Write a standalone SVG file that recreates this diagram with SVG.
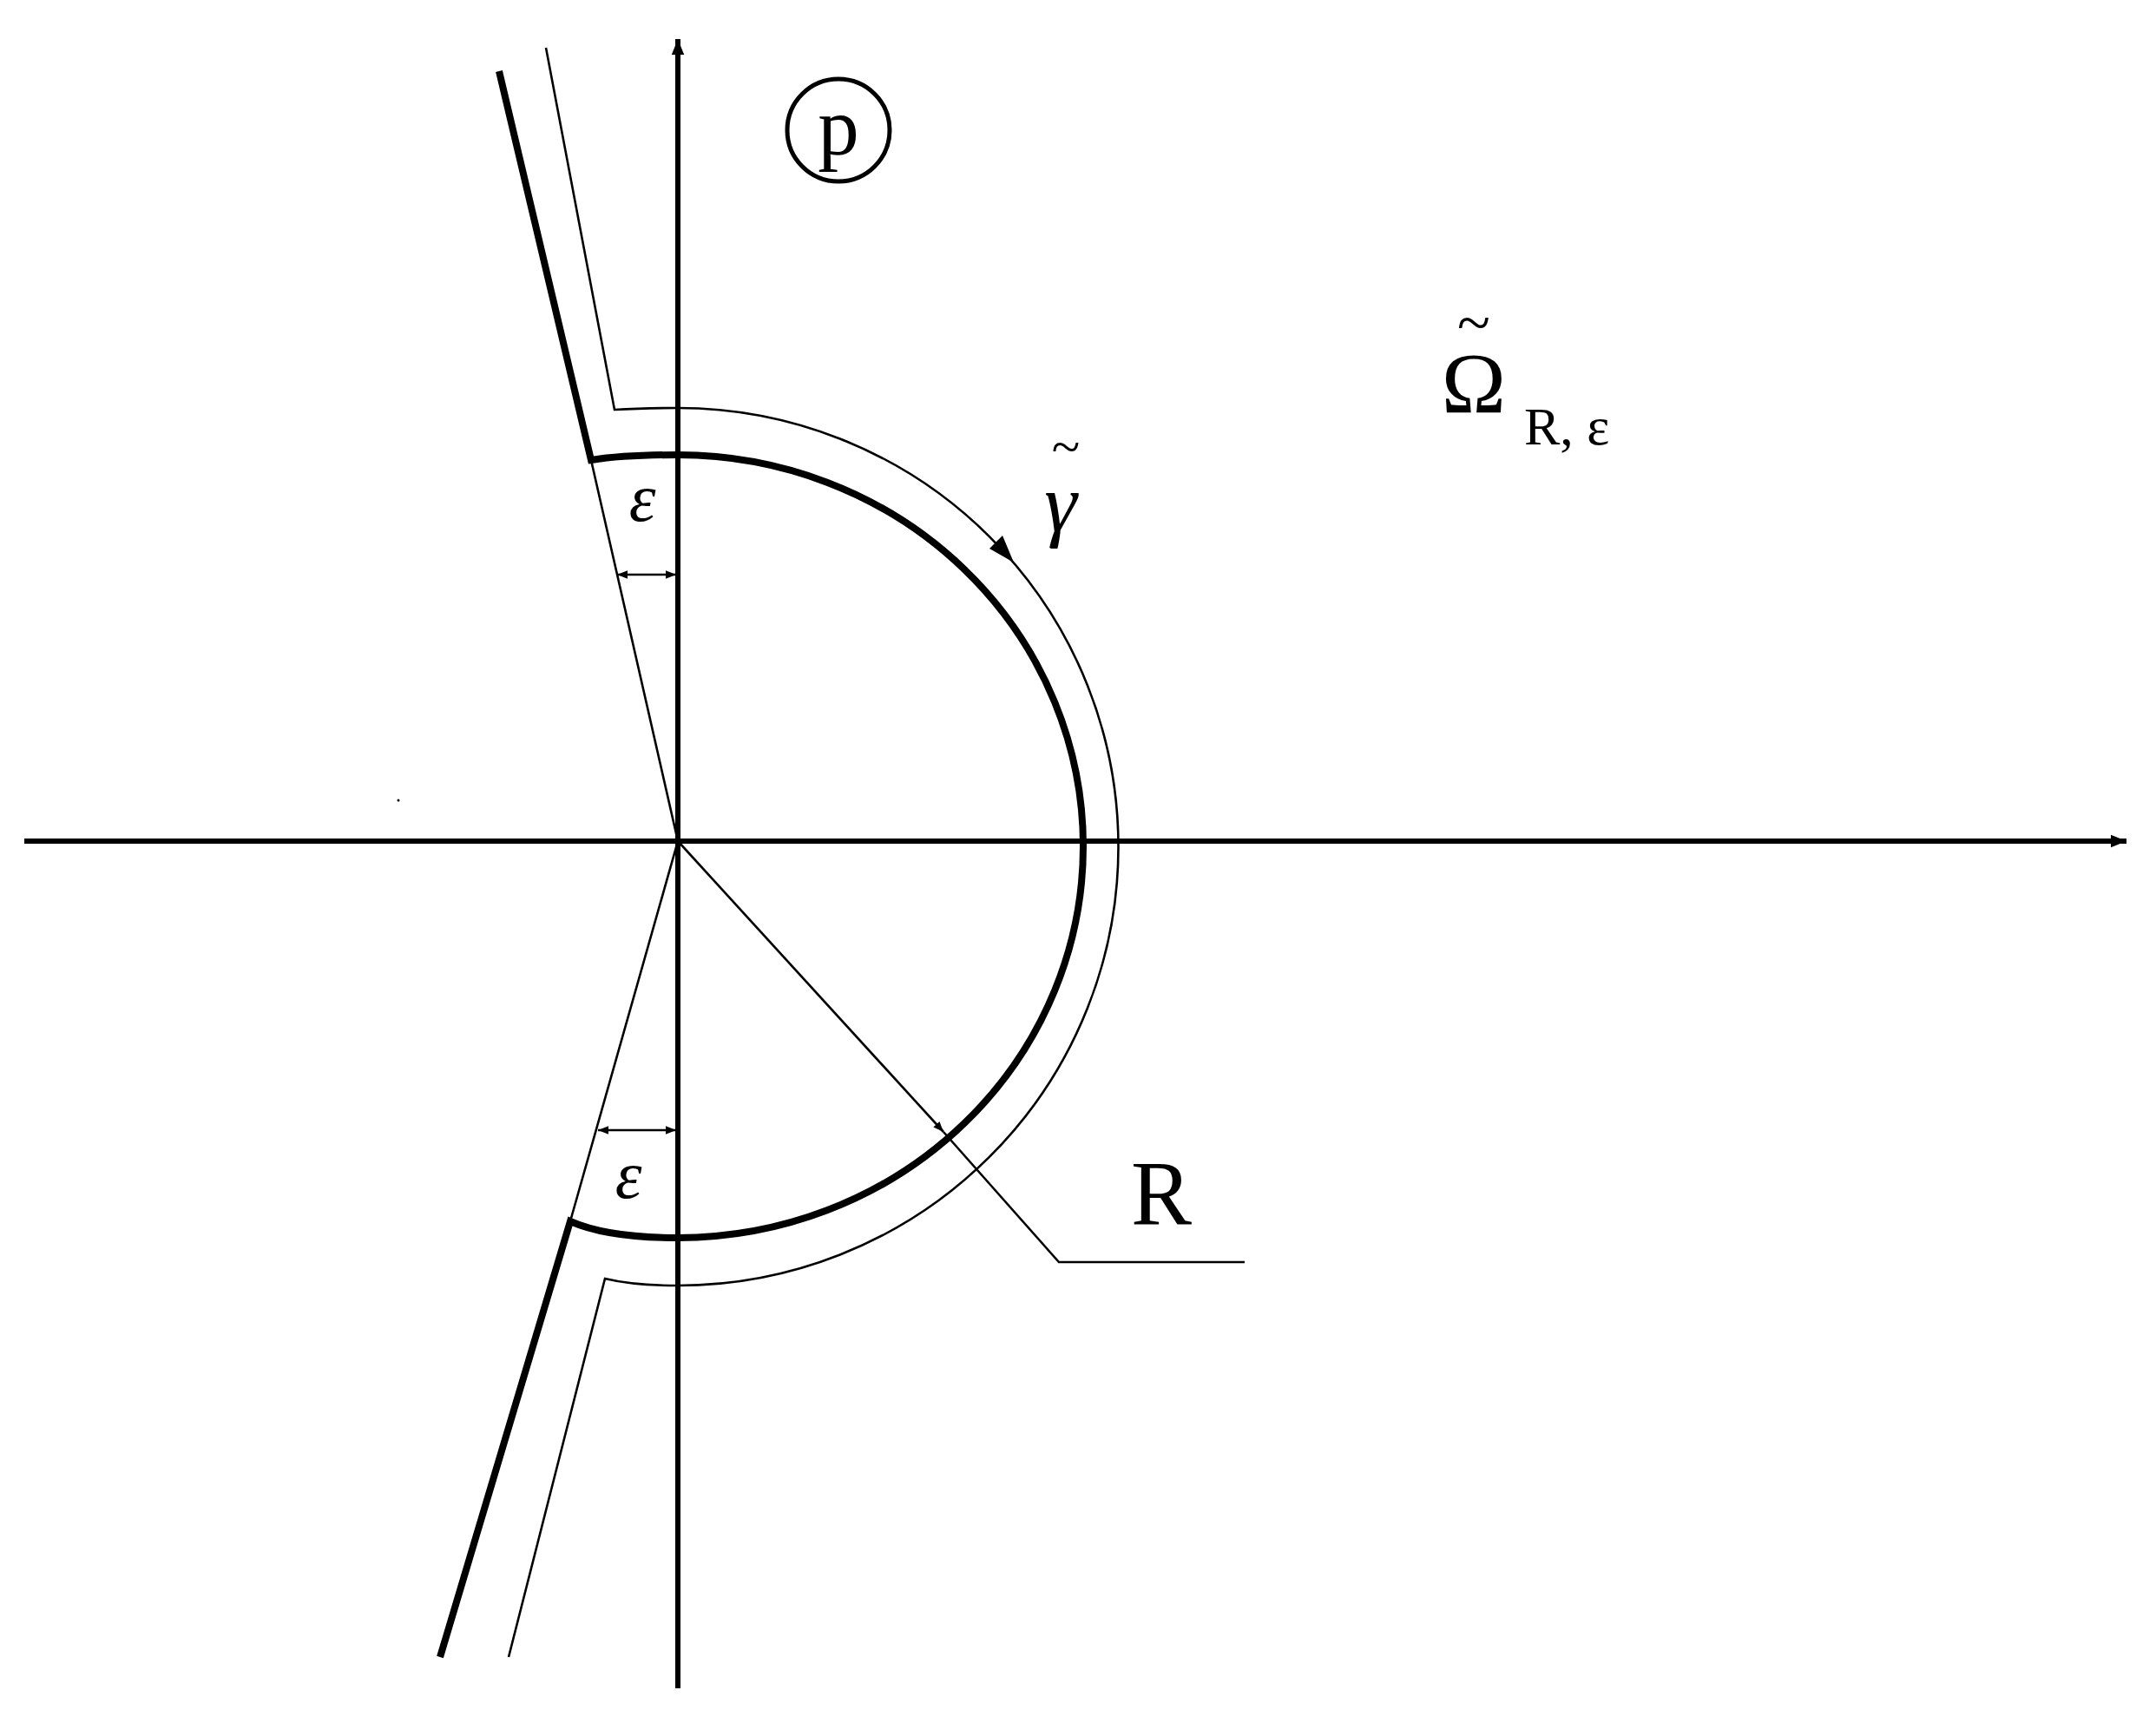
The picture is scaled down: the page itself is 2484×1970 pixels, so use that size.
<svg xmlns="http://www.w3.org/2000/svg" width="2484" height="1970" viewBox="0 0 2484 1970">
<style>
.thick{stroke:#000;stroke-width:8;fill:none}
.axis{stroke:#000;stroke-width:6;fill:none}
.thin{stroke:#000;stroke-width:2.6;fill:none}
.t{font-family:"Liberation Serif",serif;fill:#000}
</style>
<defs>
<marker id="ax" viewBox="0 0 10 10" refX="10" refY="5" markerWidth="40" markerHeight="18" markerUnits="userSpaceOnUse" orient="auto"><path d="M0,1 L10,5 L0,9z" fill="#000"/></marker>
<marker id="sm" viewBox="0 0 10 10" refX="10" refY="5" markerWidth="18" markerHeight="12" markerUnits="userSpaceOnUse" orient="auto-start-reverse"><path d="M0,1 L10,5 L0,9z" fill="#000"/></marker>
</defs>
<rect width="2484" height="1970" fill="#fff"/>
<g id="connectors">
<line class="axis" x1="28" y1="969" x2="2450" y2="969" marker-end="url(#ax)"/>
<line class="axis" x1="781" y1="1945" x2="781" y2="45" marker-end="url(#ax)"/>
<path class="thick" d="M575,82 L681,530 Q720,524 781,524 A467 451 0 0 1 781,1426 Q700,1426 657,1407 L507,1909"/>
<path class="thin" d="M629,55 L708,472 Q740,470 781,470 A507 505 0 0 1 781,1481 Q730,1481 697,1473 L586,1909"/>
<path class="thin" d="M681,530 L781,969 L657,1407"/>
<line class="thin" x1="711" y1="662" x2="779" y2="662" marker-start="url(#sm)" marker-end="url(#sm)"/>
<line class="thin" x1="689" y1="1302" x2="779" y2="1302" marker-start="url(#sm)" marker-end="url(#sm)"/>
<line class="thin" x1="781" y1="969" x2="1087" y2="1304" marker-end="url(#sm)"/>
<path class="thin" d="M1087,1304 L1220,1454 L1434,1454"/>
<path d="M1168,648 L1140,632 L1155,617 Z" fill="#000"/>
<circle cx="459" cy="922" r="1.5" fill="#000"/>
</g>
<g id="plane-label"><circle cx="966" cy="150" r="59" class="thin" style="stroke-width:5"/><text class="t" x="966" y="178" font-size="95" text-anchor="middle">p</text></g>
<g id="eps1"><text class="t" x="740" y="600" font-size="78" text-anchor="middle" font-style="italic">ε</text></g>
<g id="eps2"><text class="t" x="724" y="1380" font-size="78" text-anchor="middle" font-style="italic">ε</text></g>
<g id="gamma"><text class="t" x="1222" y="612" font-size="95" text-anchor="middle" font-style="italic">γ</text><text class="t" x="1228" y="535" font-size="60" text-anchor="middle">~</text></g>
<g id="R"><text class="t" x="1338" y="1410" font-size="105" text-anchor="middle">R</text></g>
<g id="omega"><text class="t" x="1698" y="475" font-size="100" text-anchor="middle">Ω</text><text class="t" x="1698" y="395" font-size="70" text-anchor="middle">~</text><text class="t" x="1756" y="512" font-size="62">R, ε</text></g>
</svg>
